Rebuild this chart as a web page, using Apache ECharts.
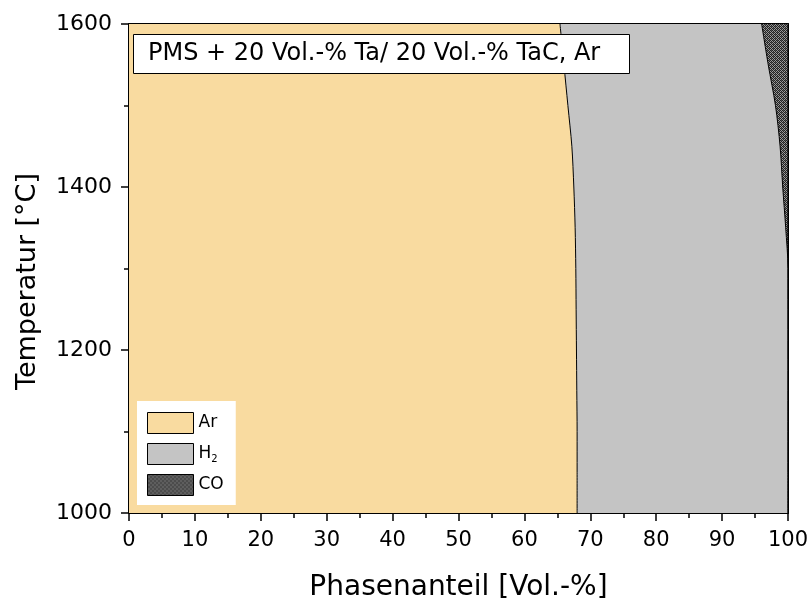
<!DOCTYPE html>
<html>
<head>
<meta charset="utf-8">
<script src="https://cdn.jsdelivr.net/npm/echarts@6/dist/echarts.min.js"></script>
<style>
  html, body { margin: 0; padding: 0; background: #fff; }
  #chart { width: 811px; height: 602px; }
</style>
</head>
<body>
<div id="chart"></div>
<script>
  // Temperaturen [°C] (Kategorie-Achse, vertikal)
  const temps = ['1000', '1050', '1100', '1150', '1200', '1250', '1300', '1350', '1400', '1450', '1500', '1550', '1600']
  // Phasenanteile [Vol.-%]
  const ar = [68.0, 68.0, 68.0, 67.95, 67.9, 67.85, 67.8, 67.7, 67.5, 67.2, 66.6, 66.0, 65.4]
  const h2 = [32.0, 32.0, 32.0, 32.05, 32.1, 32.15, 32.2, 31.95, 31.7, 31.6, 31.5, 31.0, 30.6]
  const co = [0, 0, 0, 0, 0, 0, 0, 0.35, 0.8, 1.2, 1.9, 3.0, 4.0]

  const font = 'DejaVu Sans, Verdana, sans-serif'

  // Kreuzschraffur fuer CO
  function hatch() {
    const c = document.createElement('canvas')
    c.width = 4
    c.height = 4
    const ctx = c.getContext('2d')
    ctx.fillStyle = '#9a9a9a'
    ctx.fillRect(0, 0, 4, 4)
    ctx.fillStyle = '#222'
    ctx.fillRect(0, 0, 1, 1)
    ctx.fillRect(2, 0, 1, 1)
    ctx.fillRect(1, 1, 1, 1)
    ctx.fillRect(3, 1, 1, 1)
    ctx.fillRect(0, 2, 1, 1)
    ctx.fillRect(2, 2, 1, 1)
    ctx.fillRect(1, 3, 1, 1)
    ctx.fillRect(3, 3, 1, 1)
    ctx.fillStyle = '#555'
    ctx.fillRect(1, 0, 1, 1)
    ctx.fillRect(3, 2, 1, 1)
    return { image: c, repeat: 'repeat' }
  }
  const coFill = hatch()

  const chart = echarts.init(document.getElementById('chart'))

  // gemeinsame Achsen-Optik
  const axLine = { show: true, lineStyle: { color: '#000', width: 2 } }
  const tickStyle = { color: '#000', width: 1.5 }

  const options = {
    animation: false,
    title: {
      text: 'PMS + 20 Vol.-% Ta/ 20 Vol.-% TaC, Ar',
      left: 133,
      top: 34,
      padding: [8, 30, 8, 15],
      backgroundColor: '#fff',
      borderColor: '#000',
      borderWidth: 1,
      textStyle: {
        fontFamily: font,
        fontSize: 24,
        fontWeight: 'normal',
        color: '#000'
      }
    },
    legend: {
      orient: 'vertical',
      left: 137,
      top: 401,
      padding: [11, 12, 9, 10],
      backgroundColor: '#fff',
      itemWidth: 46,
      itemHeight: 21,
      itemGap: 9,
      icon: 'rect',
      data: [
        { name: 'Ar', itemStyle: { color: '#f9dba0', borderColor: '#000', borderWidth: 1 } },
        { name: 'H2', itemStyle: { color: '#c4c4c4', borderColor: '#000', borderWidth: 1 } },
        { name: 'CO', itemStyle: { color: coFill, borderColor: '#000', borderWidth: 1 } }
      ],
      formatter: function(name) {
        return name === 'H2' ? 'H{sub|2}' : name
      },
      textStyle: {
        fontFamily: font,
        fontSize: 17,
        color: '#000',
        rich: {
          sub: { fontFamily: font, fontSize: 10, padding: [10, 0, 0, 0] }
        }
      }
    },
    grid: {
      left: 129,
      right: 23,
      top: 24,
      bottom: 89,
      outerBoundsMode: 'none'
    },
    xAxis: [
      {
        type: 'value',
        position: 'bottom',
        min: 0,
        max: 100,
        interval: 10,
        name: 'Phasenanteil [Vol.-%]',
        nameLocation: 'middle',
        nameGap: 61,
        nameTextStyle: { fontFamily: font, fontSize: 28, color: '#000' },
        axisLine: axLine,
        axisTick: { show: true, length: 8, lineStyle: tickStyle },
        minorTick: { show: true, splitNumber: 2, length: 5, lineStyle: tickStyle },
        axisLabel: { fontFamily: font, fontSize: 21, color: '#000', margin: 17 },
        splitLine: { show: false }
      },
      {
        type: 'value',
        position: 'top',
        min: 0,
        max: 100,
        interval: 10,
        axisLine: axLine,
        axisTick: { show: true, inside: true, length: 8, lineStyle: tickStyle },
        minorTick: { show: true, splitNumber: 2, length: 5, lineStyle: tickStyle },
        axisLabel: { show: false },
        splitLine: { show: false }
      }
    ],
    yAxis: [
      {
        type: 'category',
        position: 'left',
        data: temps,
        boundaryGap: false,
        show: false
      },
      {
        type: 'value',
        position: 'left',
        min: 1000,
        max: 1600,
        interval: 200,
        name: 'Temperatur [°C]',
        nameLocation: 'middle',
        nameGap: 88,
        nameTextStyle: { fontFamily: font, fontSize: 27, color: '#000', padding: [0, 26, 0, 0] },
        axisLine: axLine,
        axisTick: { show: true, length: 8, lineStyle: tickStyle },
        minorTick: { show: true, splitNumber: 2, length: 5, lineStyle: tickStyle },
        axisLabel: {
          fontFamily: font,
          fontSize: 22,
          color: '#000',
          margin: 17,
          formatter: function(v) { return String(v) }
        },
        splitLine: { show: false }
      },
      {
        type: 'value',
        position: 'right',
        min: 1000,
        max: 1600,
        interval: 200,
        axisLine: axLine,
        axisTick: { show: true, inside: true, length: 8, lineStyle: tickStyle },
        minorTick: { show: true, splitNumber: 2, length: 5, lineStyle: tickStyle },
        axisLabel: { show: false },
        splitLine: { show: false }
      }
    ],
    series: [
      {
        name: 'Ar',
        type: 'line',
        stack: 'phasen',
        xAxisIndex: 0,
        yAxisIndex: 0,
        data: ar,
        smooth: 0.3,
        showSymbol: false,
        z: 1,
        lineStyle: { color: '#000', width: 1 },
        itemStyle: { color: '#f9dba0' },
        areaStyle: { color: '#f9dba0', opacity: 1 }
      },
      {
        name: 'H2',
        type: 'line',
        stack: 'phasen',
        xAxisIndex: 0,
        yAxisIndex: 0,
        data: h2,
        smooth: 0.3,
        showSymbol: false,
        z: 1,
        lineStyle: { color: '#000', width: 1 },
        itemStyle: { color: '#c4c4c4' },
        areaStyle: { color: '#c4c4c4', opacity: 1 }
      },
      {
        name: 'CO',
        type: 'line',
        stack: 'phasen',
        xAxisIndex: 0,
        yAxisIndex: 0,
        data: co,
        smooth: 0.3,
        showSymbol: false,
        z: 1,
        lineStyle: { color: '#000', width: 1 },
        itemStyle: { color: '#555' },
        areaStyle: { color: coFill, opacity: 1 }
      }
    ]
  }

  chart.setOption(options)
</script>
</body>
</html>
